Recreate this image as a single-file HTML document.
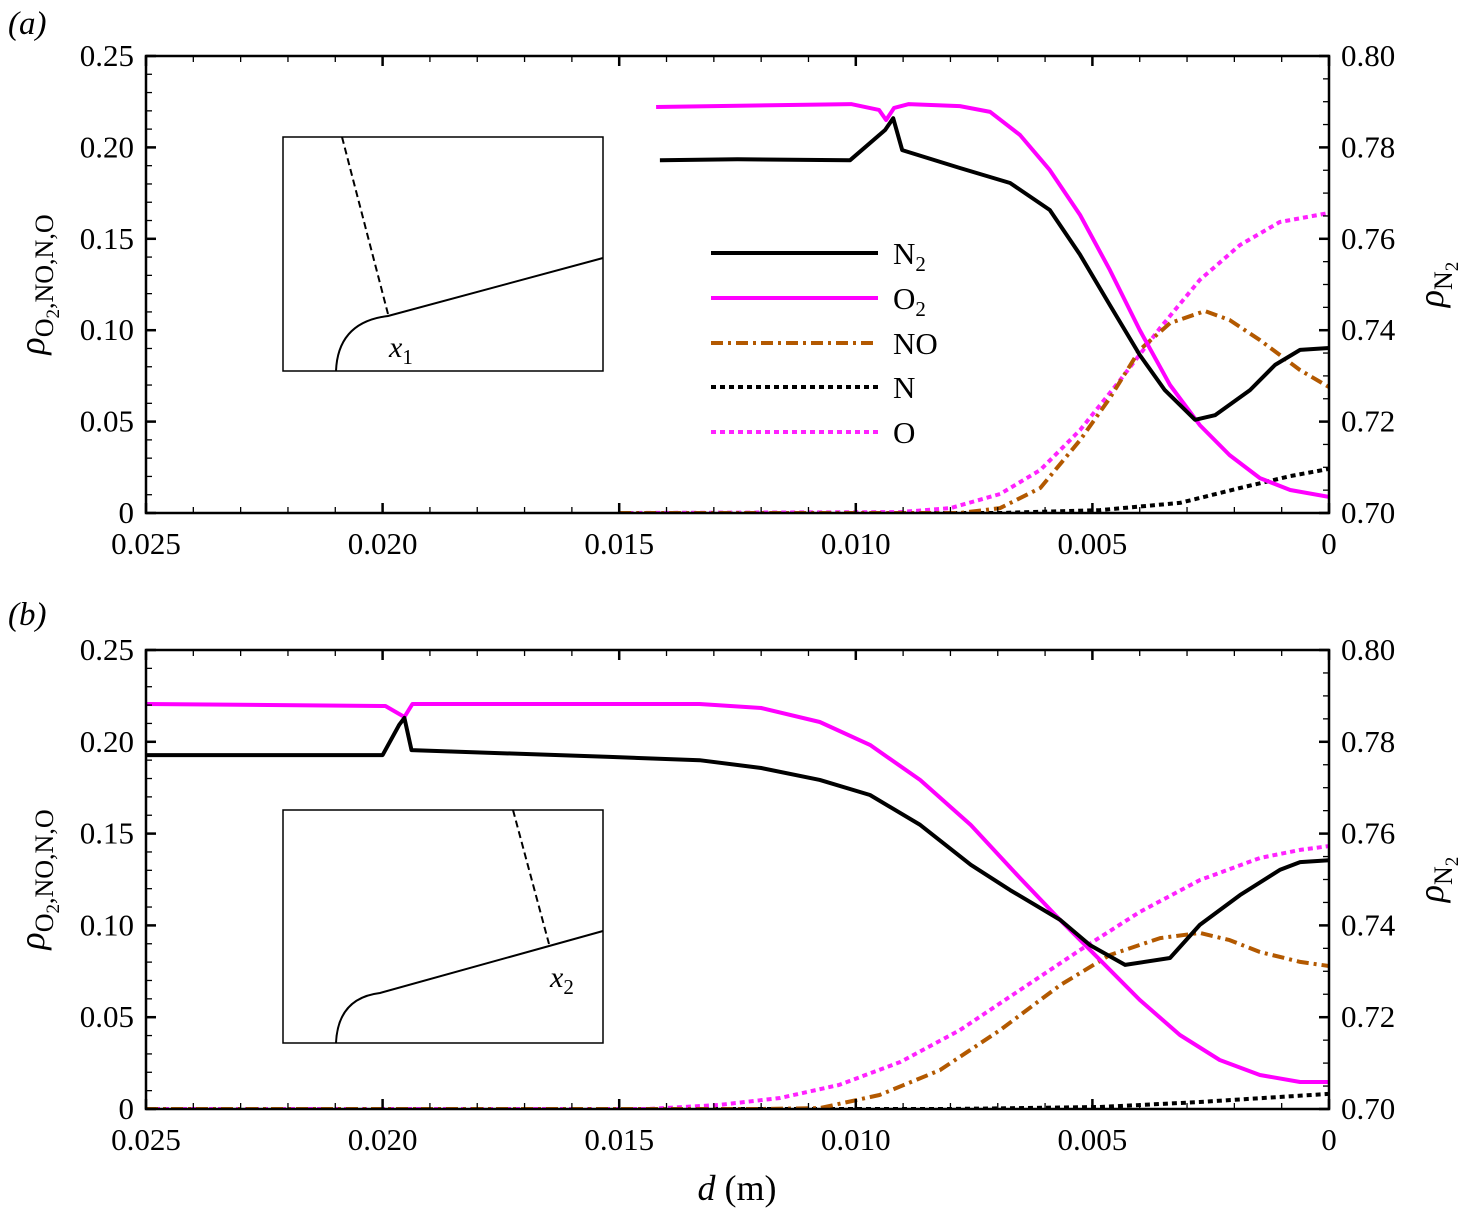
<!DOCTYPE html>
<html><head><meta charset="utf-8">
<style>
body{margin:0;background:#fff;}
svg{display:block;font-family:"Liberation Serif",serif;}
</style></head>
<body>
<svg id="fig" width="1462" height="1212" viewBox="0 0 1462 1212" xmlns="http://www.w3.org/2000/svg">
</svg>
<script>
// x-axis ticks (d in m)
const xTicks = [0.025, 0.020, 0.015, 0.010, 0.005, 0];
const xTickLabels = ["0.025","0.020","0.015","0.010","0.005","0"];
const yLeftTicks = [0, 0.05, 0.10, 0.15, 0.20, 0.25];
const yLeftLabels = ["0","0.05","0.10","0.15","0.20","0.25"];
const yRightTicks = [0.70, 0.72, 0.74, 0.76, 0.78, 0.80];
const yRightLabels = ["0.70","0.72","0.74","0.76","0.78","0.80"];

// Panel (a) data
const aN2_d = [0.01414,0.0125,0.01012,0.00938,0.00921,0.00902,0.0078,0.00674,0.0059,0.00526,0.00463,0.004,0.00347,0.00283,0.00241,0.00167,0.00114,0.00061,0];
const aN2_v = [0.7772,0.7774,0.7772,0.7838,0.7864,0.7794,0.7755,0.7722,0.7663,0.7565,0.7455,0.7346,0.7269,0.7204,0.7214,0.7269,0.7324,0.7357,0.7361];
const aO2_d = [0.01422,0.0101,0.00951,0.00936,0.00919,0.00888,0.0078,0.00716,0.00653,0.0059,0.00526,0.00463,0.004,0.00336,0.00273,0.0021,0.00146,0.00082,0];
const aO2_v = [0.2221,0.2237,0.2205,0.215,0.2216,0.2237,0.2226,0.2194,0.2068,0.1876,0.163,0.1329,0.1001,0.07,0.0481,0.0317,0.0191,0.0126,0.0088];
const aO_d = [0.0150,0.00906,0.008,0.00695,0.0061,0.00526,0.00441,0.00357,0.00273,0.00188,0.00104,0];
const aO_v = [0,0.0005,0.0027,0.0104,0.0235,0.0454,0.0728,0.1012,0.1275,0.1466,0.1592,0.1641];
const aNO_d = [0.0150,0.0078,0.00695,0.0061,0.00526,0.00463,0.004,0.00336,0.00262,0.0021,0.00146,0.00061,0];
const aNO_v = [0,0,0.0027,0.0137,0.0399,0.0629,0.0892,0.1039,0.1105,0.1056,0.0946,0.0782,0.0689];
const aN_d = [0.0150,0.00695,0.00484,0.00315,0.00188,0.00082,0];
const aN_v = [0,0,0.0016,0.0055,0.0137,0.0202,0.0241];

// Panel (b) data
const bN2_d = [0.025,0.020,0.01965,0.01954,0.01939,0.0152,0.0133,0.0120,0.01076,0.0097,0.00864,0.00757,0.00674,0.00568,0.00505,0.00431,0.00336,0.00273,0.00188,0.00104,0.00061,0];
const bN2_v = [0.7771,0.7771,0.7837,0.7852,0.7782,0.7767,0.776,0.7743,0.7717,0.7684,0.7619,0.7532,0.7477,0.7412,0.7357,0.7314,0.7329,0.7401,0.7466,0.7521,0.7538,0.7542];
const bO2_d = [0.025,0.01994,0.01954,0.01937,0.0133,0.0120,0.01076,0.0097,0.00864,0.00757,0.00653,0.00568,0.00484,0.004,0.00315,0.00231,0.00146,0.00061,0];
const bO2_v = [0.2206,0.2195,0.2135,0.2206,0.2206,0.2184,0.2108,0.1983,0.1792,0.1547,0.1258,0.1029,0.0812,0.0594,0.0403,0.0267,0.0185,0.0147,0.0147];
const bO_d = [0.025,0.0144,0.0129,0.0116,0.01035,0.00906,0.0078,0.00653,0.00526,0.004,0.00273,0.00146,0.00061,0];
const bO_v = [0,0,0.0022,0.006,0.0131,0.0256,0.043,0.0648,0.0866,0.1073,0.1247,0.1367,0.1411,0.1432];
const bNO_d = [0.025,0.0120,0.01076,0.0095,0.00822,0.00695,0.00568,0.00463,0.00357,0.00273,0.0021,0.00146,0.00061,0];
const bNO_v = [0,0,0.0005,0.0076,0.0212,0.043,0.0675,0.0839,0.0931,0.0959,0.092,0.0855,0.0801,0.0779];
const bN_d = [0.025,0.0080,0.00484,0.00273,0];
const bN_v = [0,0,0.0011,0.0038,0.0082];

const NS = "http://www.w3.org/2000/svg";
const svg = document.getElementById("fig");
function mk(tag, attrs, parent){
  const e = document.createElementNS(NS, tag);
  for (const k in attrs) e.setAttribute(k, attrs[k]);
  (parent||svg).appendChild(e);
  return e;
}
const X0 = 146, X1 = 1329;
function xs(d){ return X1 - (d/0.025)*(X1-X0); }

const styles = {
  N2:{stroke:"#000",dash:"none"},
  O2:{stroke:"#ff00ff",dash:"none"},
  NO:{stroke:"#b35900",dash:"12 5 3 5"},
  N:{stroke:"#000",dash:"5 4"},
  O:{stroke:"#ff22ff",dash:"5 4"}
};
const FS = 31;

function panel(name, top, bottom, series, inset, label, labelY){
  const g = mk("g", {});
  
  
  const yl = v => bottom - (v/0.25)*(bottom-top);
  const yr = v => bottom - ((v-0.70)/0.10)*(bottom-top);
  const cid = name+"-clip";
  const cp = mk("clipPath",{id:cid},g);
  mk("rect",{x:X0,y:top,width:X1-X0,height:bottom-top},cp);
  const sg = mk("g",{"clip-path":"url(#"+cid+")"},g);
  series.forEach(s=>{
    const axis = s.right ? yr : yl;
    const pts = s.d.map((d,i)=>xs(d).toFixed(1)+","+axis(s.v[i]).toFixed(1)).join(" ");
    const st = styles[s.key];
    const p = mk("polyline",{points:pts,fill:"none",stroke:st.stroke,"stroke-width":4,"stroke-dasharray":st.dash,"stroke-linejoin":"round"},sg);
    
    
  });
  const fr = mk("rect",{x:X0,y:top,width:X1-X0,height:bottom-top,fill:"none",stroke:"#000","stroke-width":2.5},g);
  
  
  for (let k=0;k<=25;k++){
    const d = k*0.001, x = xs(d), major = k%5===0, len = major?10:6;
    mk("line",{x1:x,y1:bottom,x2:x,y2:bottom-len,stroke:"#000","stroke-width":major?2.5:1.3},g);
    mk("line",{x1:x,y1:top,x2:x,y2:top+len,stroke:"#000","stroke-width":major?2.5:1.3},g);
  }
  xTicks.forEach((d,i)=>{
    const t = mk("text",{x:xs(d),y:bottom+41,"font-size":FS,"text-anchor":"middle"},g);
    t.textContent = xTickLabels[i];
    
    
  });
  for (let k=0;k<=25;k++){
    const y = yl(k*0.01), major = k%5===0, len = major?10:6;
    mk("line",{x1:X0,y1:y,x2:X0+len,y2:y,stroke:"#000","stroke-width":major?2.5:1.3},g);
  }
  yLeftTicks.forEach((v,i)=>{
    const t = mk("text",{x:X0-12,y:yl(v)+10,"font-size":FS,"text-anchor":"end"},g);
    t.textContent = yLeftLabels[i];
    
    
  });
  for (let k=0;k<=20;k++){
    const y = yr(0.70+k*0.005), major = k%4===0, len = major?10:6;
    mk("line",{x1:X1,y1:y,x2:X1-len,y2:y,stroke:"#000","stroke-width":major?2.5:1.3},g);
  }
  yRightTicks.forEach((v,i)=>{
    const t = mk("text",{x:X1+12,y:yr(v)+10,"font-size":FS,"text-anchor":"start"},g);
    t.textContent = yRightLabels[i];
    
    
  });
  const cy = (top+bottom)/2;
  const lt = mk("text",{x:0,y:0,"font-size":36,"text-anchor":"middle",transform:"translate(44,"+cy+") rotate(-90)"},g);
  lt.innerHTML = '<tspan font-style="italic">ρ</tspan><tspan font-size="26" dy="9">O</tspan><tspan font-size="19" dy="6">2</tspan><tspan font-size="26" dy="-6">,NO,N,O</tspan>';
  
  
  const rt = mk("text",{x:0,y:0,"font-size":36,"text-anchor":"middle",transform:"translate(1443,"+cy+") rotate(-90)"},g);
  rt.innerHTML = '<tspan font-style="italic">ρ</tspan><tspan font-size="26" dy="9">N</tspan><tspan font-size="19" dy="6">2</tspan>';
  
  
  const pl = mk("text",{x:8,y:labelY,"font-size":33,"font-style":"italic"},g);
  pl.textContent = label;
  
  
  const ig = mk("g",{},g);
  
  
  mk("rect",{x:283,y:inset.top,width:320,height:inset.h,fill:"#fff",stroke:"#000","stroke-width":1.5},ig);
  mk("path",{d:inset.body,fill:"none",stroke:"#000","stroke-width":2},ig);
  mk("line",{x1:inset.dash[0],y1:inset.dash[1],x2:inset.dash[2],y2:inset.dash[3],stroke:"#000","stroke-width":2,"stroke-dasharray":"7 4"},ig);
  const il = mk("text",{x:inset.lx,y:inset.ly,"font-size":30},ig);
  il.innerHTML = '<tspan font-style="italic">x</tspan><tspan font-size="21" dy="7">'+inset.sub+'</tspan>';
}

panel("panel-a",56,513,[
  {key:"N",d:aN_d,v:aN_v},{key:"O",d:aO_d,v:aO_v},{key:"NO",d:aNO_d,v:aNO_v},
  {key:"O2",d:aO2_d,v:aO2_v},{key:"N2",d:aN2_d,v:aN2_v,right:true}
],{top:137,h:234,body:"M336,371 Q338,322 388,316 L603,258",dash:[342,137,388,314],lx:389,ly:357,sub:"1"},"(a)",34);

panel("panel-b",650,1109,[
  {key:"N",d:bN_d,v:bN_v},{key:"O",d:bO_d,v:bO_v},{key:"NO",d:bNO_d,v:bNO_v},
  {key:"O2",d:bO2_d,v:bO2_v},{key:"N2",d:bN2_d,v:bN2_v,right:true}
],{top:810,h:233,body:"M336,1043 Q338,998 380,993 L603,931",dash:[513,810,549,944],lx:550,ly:987,sub:"2"},"(b)",625);

const legend = mk("g",{});


const legKeys = ["N2","O2","NO","N","O"];
const legY = [253,298,343,387,432];
legKeys.forEach((k,i)=>{
  const st = styles[k];
  const e = mk("g",{},legend);
  
  
  mk("line",{x1:711,y1:legY[i],x2:878,y2:legY[i],stroke:st.stroke,"stroke-width":4,"stroke-dasharray":st.dash},e);
  const t = mk("text",{x:893,y:legY[i]+11,"font-size":31},e);
  if (k==="N2"||k==="O2") t.innerHTML = k[0]+'<tspan font-size="21" dy="7">2</tspan>';
  else t.textContent = k;
});

const xt = mk("text",{x:737,y:1200,"font-size":36,"text-anchor":"middle"});
xt.innerHTML = '<tspan font-style="italic">d</tspan> (m)';


</script>
</body></html>
